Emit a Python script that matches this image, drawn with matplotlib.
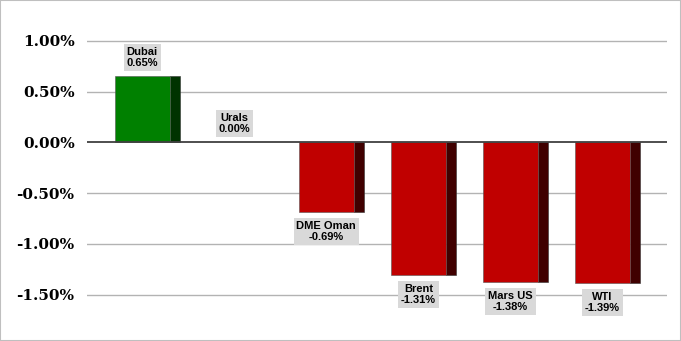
import numpy as np
import matplotlib.pyplot as plt
from matplotlib.patches import Rectangle

# data
grades = ['Dubai', 'Urals', 'DME Oman', 'Brent', 'Mars US', 'WTI']
changes = [0.65, 0.00, -0.69, -1.31, -1.38, -1.39]
yticks = [1.0, 0.5, 0.0, -0.5, -1.0, -1.5]

fig = plt.figure(figsize=(6.81, 3.41), dpi=100)
ax = fig.add_axes([0.1278, 0.0616, 0.8516, 0.878])
fig.patches.append(Rectangle((0, 0), 1, 1, transform=fig.transFigure,
                             fill=False, edgecolor='#bfbfbf', lw=1.5))

x = np.arange(len(grades))
front_w = 0.6
side_w = 0.11
for xi, v in zip(x, changes):
    if v == 0:
        continue
    face = '#008000' if v > 0 else '#c00000'
    side = '#003300' if v > 0 else '#400000'
    ax.bar(xi - 0.35 + front_w, v, width=side_w, align='edge', color=side,
           edgecolor='#333333', lw=0.4, zorder=3)
    ax.bar(xi - 0.35, v, width=front_w, align='edge', color=face,
           edgecolor='#555555', lw=0.4, zorder=4)

# labels
for xi, name, v in zip(x, grades, changes):
    off = 6 if v >= 0 else -6
    va = 'bottom' if v >= 0 else 'top'
    ax.annotate('%s\n%.2f%%' % (name, v), (xi - 0.05, v), xytext=(0, off),
                textcoords='offset points', ha='center', va=va,
                fontsize=8, fontweight='bold', linespacing=1.15,
                family='Liberation Sans',
                bbox=dict(boxstyle='square,pad=0.25', fc='#d9d9d9', ec='none'),
                zorder=6)

ax.set_xlim(-0.65, 5.65)
ax.set_ylim(-1.75, 1.2)
ax.set_yticks(yticks)
ax.set_yticklabels(['%.2f%%' % t for t in yticks], fontsize=11, fontweight='bold',
                   family='DejaVu Serif')
ax.tick_params(axis='y', length=0, pad=9)
ax.set_xticks([])
for s in ax.spines.values():
    s.set_visible(False)
for t in yticks:
    if t != 0:
        ax.axhline(t, color='#b3b3b3', lw=1, zorder=1)
ax.axhline(0, color='#404040', lw=1.3, zorder=5)

fig.savefig('out.png', dpi=100)
